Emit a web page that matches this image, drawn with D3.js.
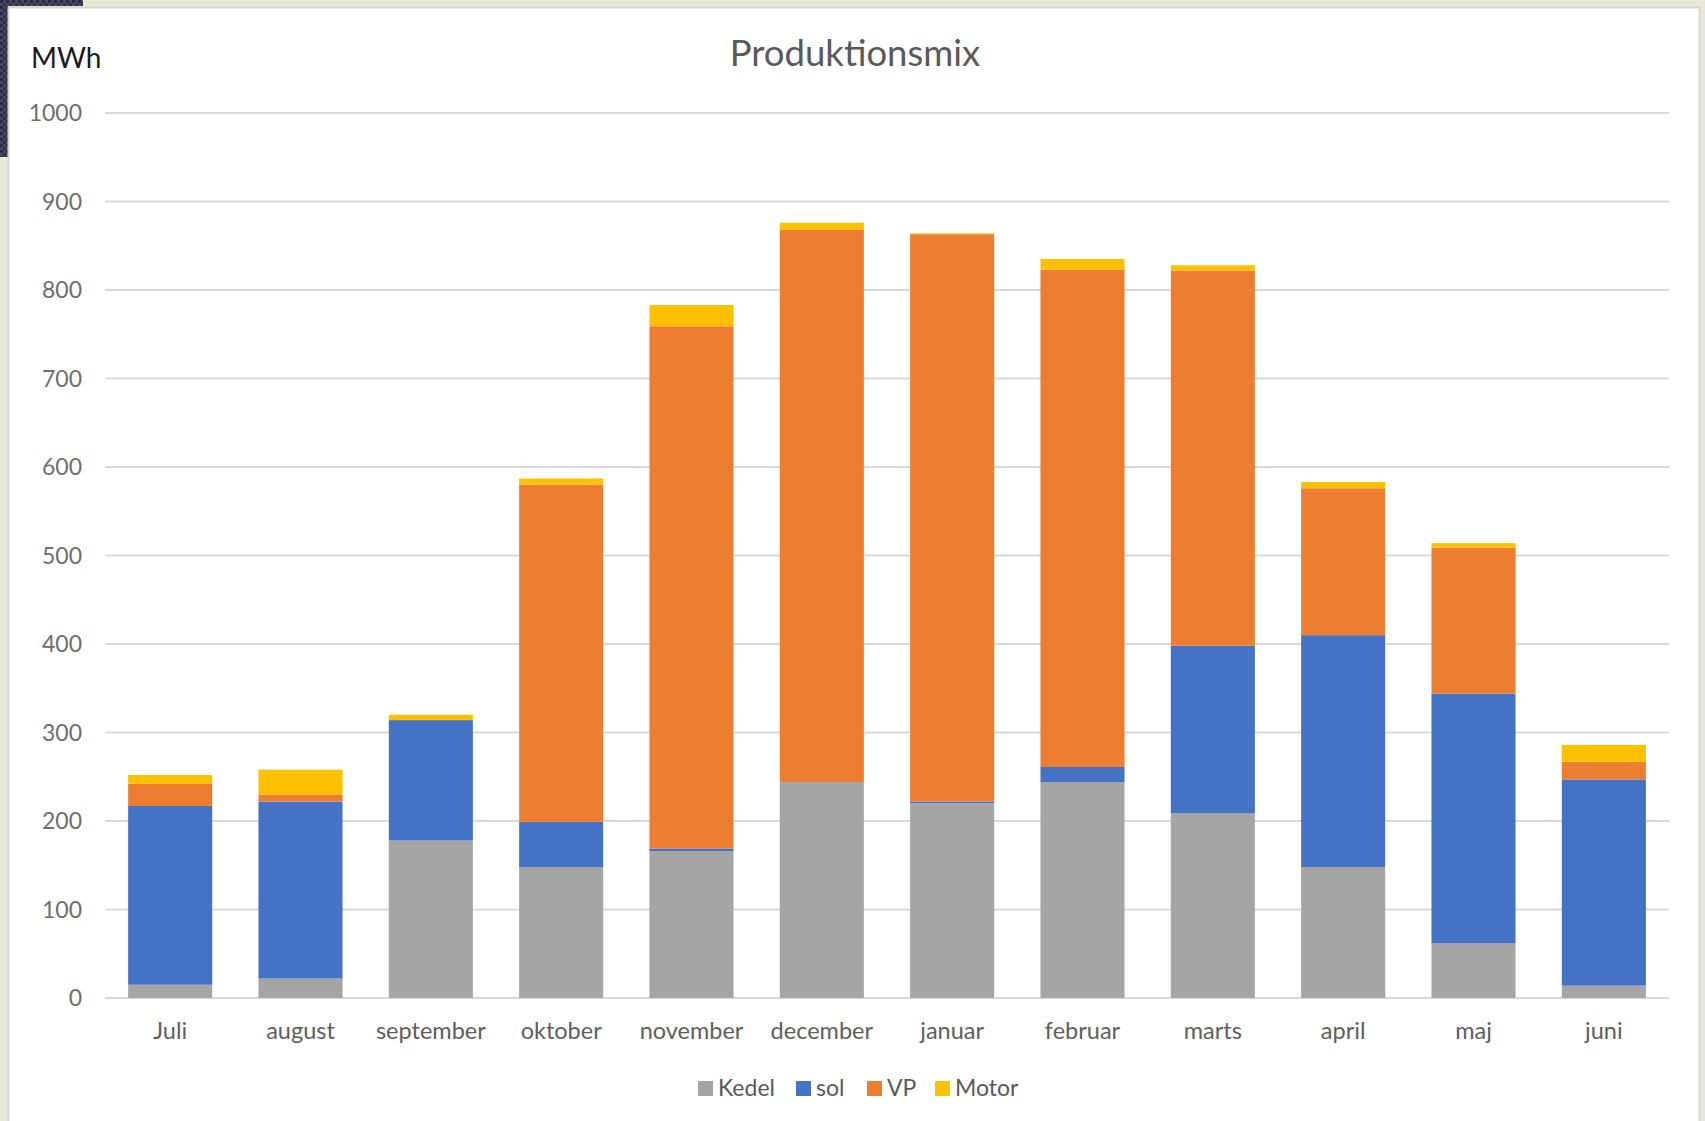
<!DOCTYPE html>
<html>
<head>
<meta charset="utf-8">
<script src="https://cdn.jsdelivr.net/npm/d3@7"></script>
<style>
  html, body { margin: 0; padding: 0; background: #e8e8d7; }
  svg { display: block; }
  text { font-family: Lato, "Open Sans", sans-serif; }
</style>
</head>
<body>
<svg id="chart" width="1705" height="1121"></svg>
<script>
const categories = ["Juli","august","september","oktober","november","december","januar","februar","marts","april","maj","juni"];
const seriesNames = ["Kedel","sol","VP","Motor"];
const kedel = [15, 22, 178, 148, 166, 244, 220, 244, 209, 148, 62, 14];
const sol   = [202, 200, 136, 51, 3, 0, 2, 17, 189, 262, 282, 233];
const vp    = [25, 8, 0, 381, 590, 624, 641, 562, 424, 166, 165, 20];
const motor = [10, 28, 6, 7, 24, 8, 1, 12, 6, 7, 5, 19];
const yTicks = [0,100,200,300,400,500,600,700,800,900,1000];
const colors = ["#A5A5A5","#4472C4","#ED7D31","#FFC000"];

const svg = d3.select("#chart");
const W = 1705, H = 1121;

// page background texture
const defs = svg.append("defs");
const pat = defs.append("pattern").attr("id","chk").attr("width",6).attr("height",6).attr("patternUnits","userSpaceOnUse");
pat.append("rect").attr("width",6).attr("height",6).attr("fill","#4a4a4c");
pat.append("rect").attr("x",0).attr("y",0).attr("width",3).attr("height",3).attr("fill","#232a52");
pat.append("rect").attr("x",3).attr("y",3).attr("width",3).attr("height",3).attr("fill","#2a3060");

svg.append("rect").attr("width",W).attr("height",H).attr("fill","#e8e8d7");
svg.append("rect").attr("x",0).attr("y",0).attr("width",83).attr("height",6).attr("fill","url(#chk)");
svg.append("rect").attr("x",0).attr("y",0).attr("width",8).attr("height",157).attr("fill","url(#chk)");

// chart panel
svg.append("rect").attr("x",8.5).attr("y",7.5).attr("width",1691).attr("height",1125)
  .attr("fill","#ffffff").attr("stroke","#d6d6d6").attr("stroke-width",2);

const x = d3.scaleBand().domain(categories).range([105,1669]).paddingInner(0.355).paddingOuter(0.1775);
const y = d3.scaleLinear().domain([0,1000]).range([998,113]);

// gridlines
svg.append("g").selectAll("line").data(yTicks).join("line")
  .attr("x1",105).attr("x2",1669)
  .attr("y1",d=>y(d)).attr("y2",d=>y(d))
  .attr("stroke","#d9d9d9").attr("stroke-width",2.2);

// y axis labels
const yAxis = d3.axisLeft(y).tickValues(yTicks).tickSize(0).tickPadding(0).tickFormat(d3.format("d"));
const gy = svg.append("g").attr("transform","translate(82,0)").call(yAxis);
gy.select(".domain").remove();
gy.selectAll("text").attr("font-family","Lato, sans-serif").attr("font-size",23).attr("fill","#6e6e6e").attr("dy","0.34em");

// stacked bars
const table = categories.map((c,i)=>({cat:c, Kedel:kedel[i], sol:sol[i], VP:vp[i], Motor:motor[i]}));
const stacked = d3.stack().keys(seriesNames)(table);
svg.append("g").selectAll("g").data(stacked).join("g")
  .attr("fill",(d,i)=>colors[i])
  .selectAll("rect").data(d=>d).join("rect")
  .attr("x",d=>x(d.data.cat))
  .attr("width",x.bandwidth())
  .attr("y",d=>y(d[1]))
  .attr("height",d=>Math.max(0,y(d[0])-y(d[1])));

// x axis labels
const xAxis = d3.axisBottom(x).tickSize(0).tickPadding(0);
const gx = svg.append("g").attr("transform","translate(0,1039)").call(xAxis);
gx.select(".domain").remove();
gx.selectAll("text").attr("font-family","Lato, sans-serif").attr("font-size",23.5).attr("fill","#5e5e5e").attr("dy",0);

// title
svg.append("text").attr("x",855).attr("y",66).attr("text-anchor","middle")
  .attr("font-size",36.5).attr("fill","#595959").text("Produktionsmix");

// unit label
svg.append("text").attr("x",31).attr("y",68).attr("font-size",28).attr("fill","#1a1a1a").text("MWh");

// legend
const legendX = [698, 796, 867, 935];
const lg = svg.append("g").selectAll("g").data(seriesNames).join("g")
  .attr("transform",(d,i)=>`translate(${legendX[i]},1081)`);
lg.append("rect").attr("width",15).attr("height",15).attr("fill",(d,i)=>colors[i]);
lg.append("text").attr("x",20).attr("y",15).attr("font-size",23).attr("fill","#595959").text(d=>d);
</script>
</body>
</html>
